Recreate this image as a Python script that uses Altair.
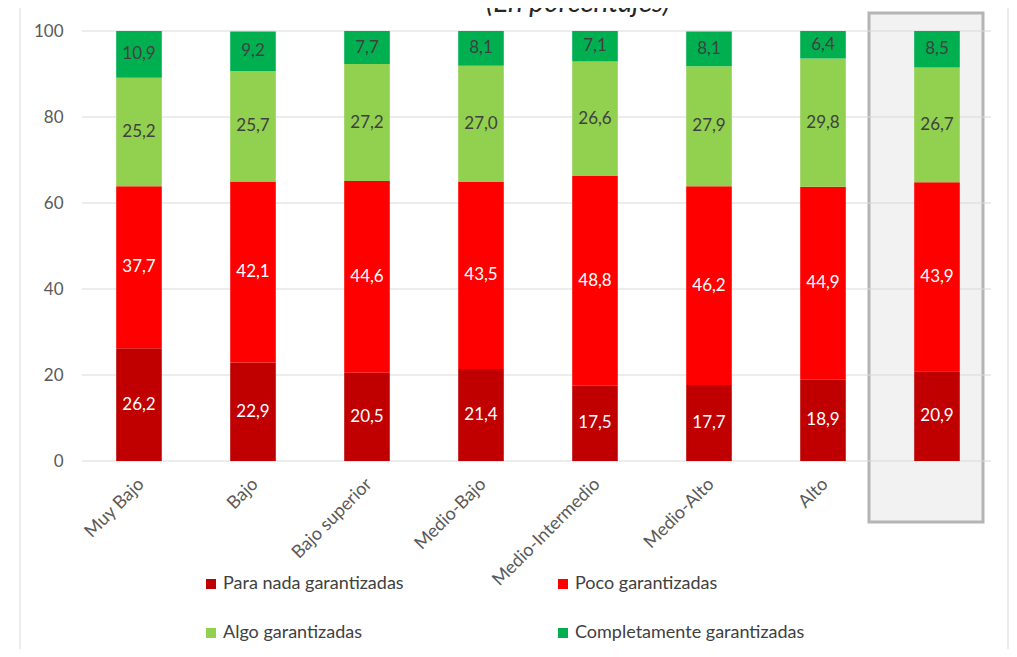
import altair as alt
import pandas as pd

categories = ["Muy Bajo", "Bajo", "Bajo superior", "Medio-Bajo",
              "Medio-Intermedio", "Medio-Alto", "Alto", "Total"]
series = ["Para nada garantizadas", "Poco garantizadas",
          "Algo garantizadas", "Completamente garantizadas"]
para_nada = [26.2, 22.9, 20.5, 21.4, 17.5, 17.7, 18.9, 20.9]
poco = [37.7, 42.1, 44.6, 43.5, 48.8, 46.2, 44.9, 43.9]
algo = [25.2, 25.7, 27.2, 27.0, 26.6, 27.9, 29.8, 26.7]
completamente = [10.9, 9.2, 7.7, 8.1, 7.1, 8.1, 6.4, 8.5]
colors = ["#C00000", "#FF0000", "#92D050", "#00B050"]
label_colors = ["#FFFFFF", "#FFFFFF", "#404040", "#404040"]
y_ticks = [0, 20, 40, 60, 80, 100]
title_text = "(En porcentajes)"

FONT = "Lato"

rows = []
for si, vals in enumerate([para_nada, poco, algo, completamente]):
    for ci, v in enumerate(vals):
        rows.append({
            "category": categories[ci],
            "series": series[si],
            "order": si,
            "value": v,
            "label": f"{v:.1f}".replace(".", ","),
            "labcolor": label_colors[si],
        })
df = pd.DataFrame(rows)

W, H = 912, 430

x_axis = alt.Axis(title=None, labelAngle=-45, labelAlign="right",
                  labelBaseline="top", labelFont=FONT,
                  labelFontSize=18, labelColor="#595959",
                  domain=False, ticks=False, tickSize=0,
                  labelPadding=14, labelOffset=-4)
y_axis = alt.Axis(title=None, values=y_ticks, grid=False,
                  domain=False, ticks=False, tickSize=0,
                  labelFont=FONT, labelFontSize=17,
                  labelColor="#595959", labelPadding=19)
y_scale = alt.Scale(domain=[0, 100], nice=False)
x_scale = alt.Scale(paddingInner=0.6, paddingOuter=0.3)

base = alt.Chart(df).transform_stack(
    stack="value", groupby=["category"], as_=["y0", "y1"],
    sort=[alt.SortField("order", order="ascending")]
).transform_calculate(mid="(datum.y0 + datum.y1) / 2")

bars = base.mark_bar().encode(
    x=alt.X("category:N", sort=categories, scale=x_scale, axis=x_axis),
    y=alt.Y("y0:Q", scale=y_scale, axis=y_axis),
    y2="y1:Q",
    color=alt.Color("series:N", scale=alt.Scale(domain=series, range=colors),
                    legend=alt.Legend(orient="none", legendX=120, legendY=544,
                                      direction="horizontal", columns=2,
                                      title=None, symbolType="square",
                                      symbolSize=100, symbolStrokeWidth=0,
                                      symbolOpacity=1,
                                      labelFont=FONT, labelFontSize=18,
                                      labelColor="#404040", labelOffset=3,
                                      columnPadding=150, rowPadding=31,
                                      padding=0, labelLimit=400)),
    order=alt.Order("order:Q"),
)

labels = base.mark_text(font=FONT, fontSize=17, baseline="middle",
                        align="center").encode(
    x=alt.X("category:N", sort=categories, scale=x_scale, axis=x_axis),
    y=alt.Y("mid:Q", scale=y_scale, axis=y_axis),
    text="label:N",
    color=alt.Color("labcolor:N", scale=None),
)

one = pd.DataFrame({"k": [1]})

frame = alt.Chart(one).mark_rect(fillOpacity=0, stroke="#d9d9d9",
                                 strokeWidth=1).encode(
    x=alt.value(-62), x2=alt.value(926), y=alt.value(-25), y2=alt.value(700))

box = alt.Chart(one).mark_rect(fill="#f2f2f2", stroke="#b4b4b4",
                               strokeWidth=3).encode(
    x=alt.value(787), x2=alt.value(901), y=alt.value(-18), y2=alt.value(491))

grid = alt.Chart(pd.DataFrame({"t": y_ticks})).mark_rule(
    color="#d9d9d9", strokeWidth=1).encode(
    y=alt.Y("t:Q", scale=y_scale, axis=y_axis),
    x=alt.value(0), x2=alt.value(909))

title = alt.Chart(one).mark_text(text=title_text, font=FONT, fontStyle="italic",
                                 fontSize=28, color="#262626", align="center",
                                 baseline="alphabetic").encode(
    x=alt.value(496), y=alt.value(-19))

chart = alt.layer(frame, box, grid, bars, labels, title).properties(
    width=W, height=H,
    autosize=alt.AutoSizeParams(type="none"),
    padding={"left": 74, "top": 23, "right": 15, "bottom": 188},
    background="white",
).configure_view(strokeWidth=0, stroke="transparent")

chart.save("out.html", embed_options={"renderer": "svg", "actions": False})
